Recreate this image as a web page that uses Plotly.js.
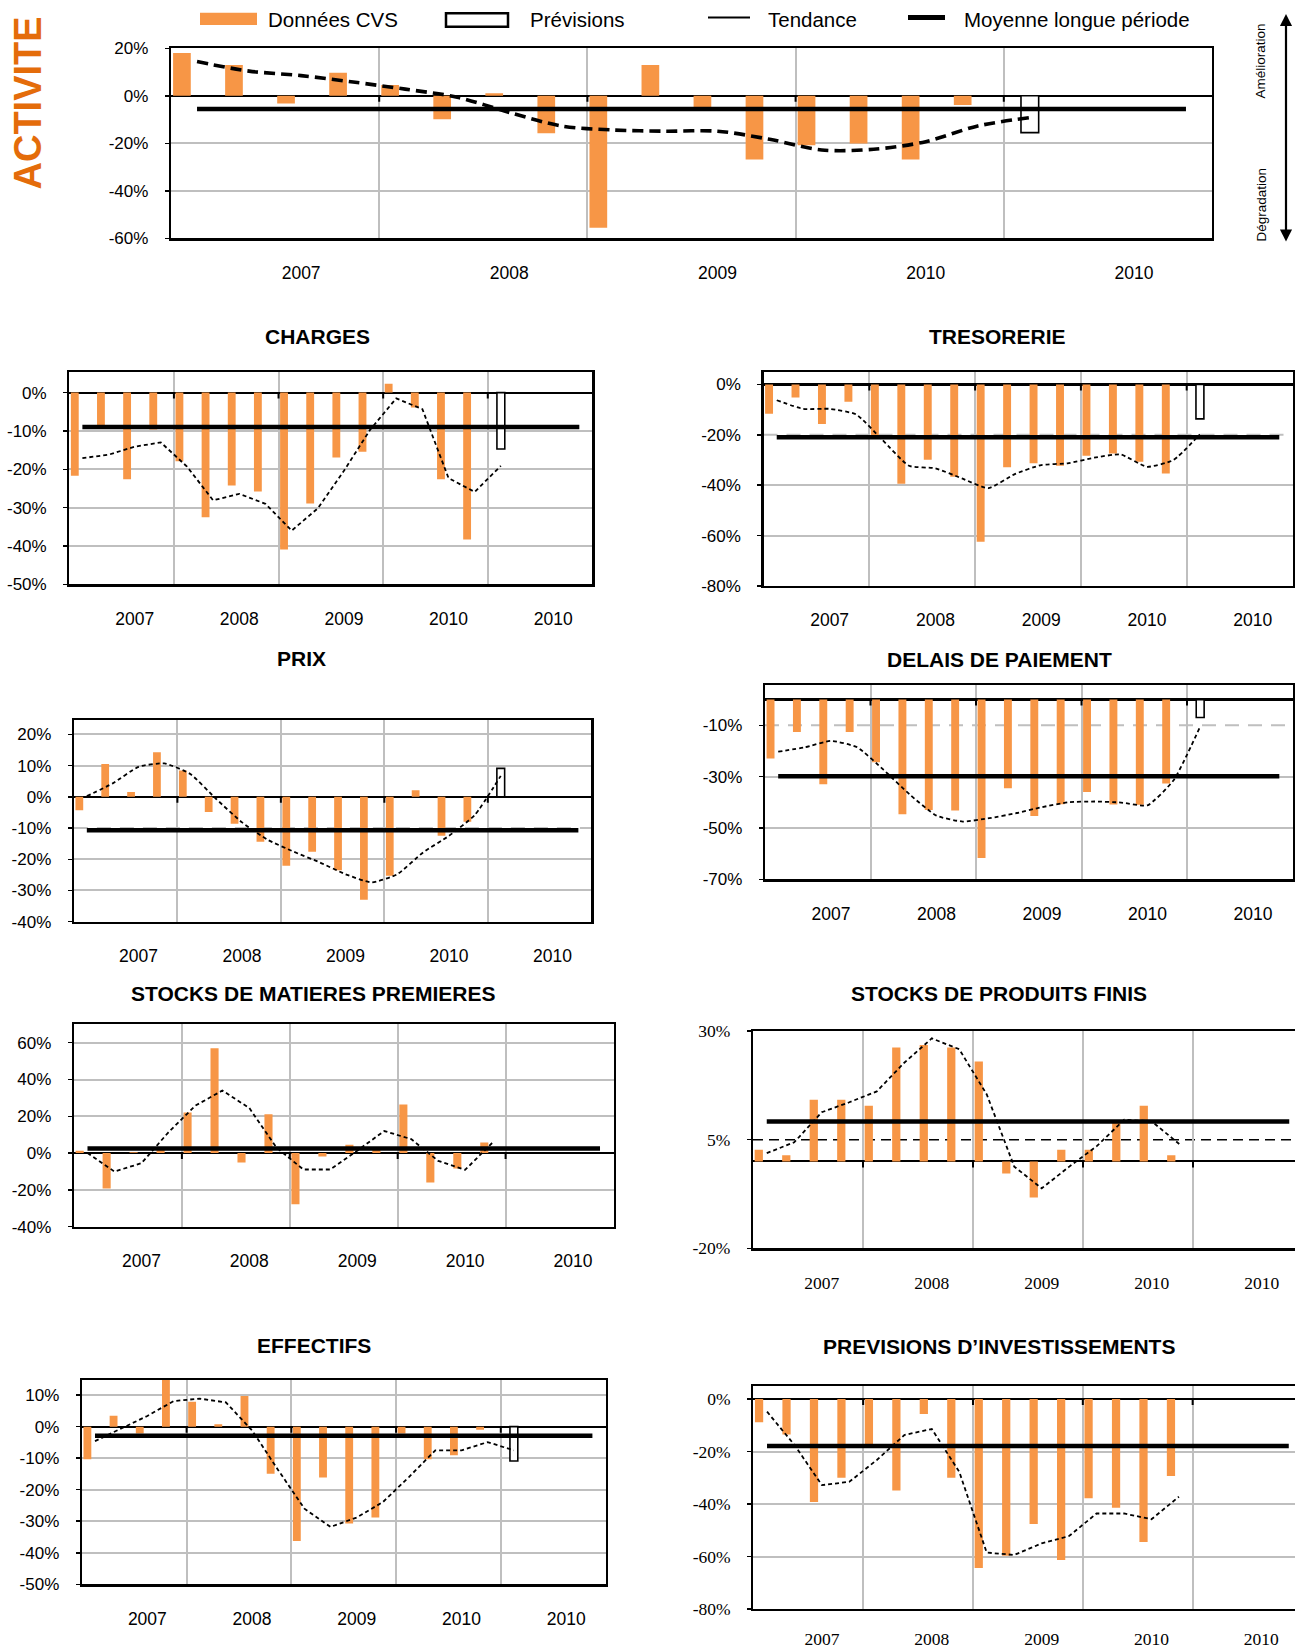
<!DOCTYPE html>
<html>
<head>
<meta charset="utf-8">
<script src="https://cdn.plot.ly/plotly-3.0.1.min.js"></script>
<style>html,body{margin:0;padding:0;background:#fff}#chart{width:1295px;height:1652px}</style>
</head>
<body>
<div id="chart"></div>
<script>
// ---------- DATA (values in %) ----------
const slots = [0,1,2,3,4,5,6,7,8,9,10,11,12,13,14,15,16,17,18,19]; // quarters
const yearLabels = ['2007','2008','2009','2010','2010'];

const activiteCVS  = [18.0, 13.0, -3.2, 9.7, 4.5, -9.9, 1.1, -15.8, -55.6, 13.0, -4.9, -26.8, -20.8, -20.1, -26.8, -3.9];
const activitePrev = -15.5;
const activiteTend = [14.4, 10.4, 8.5, 5.8, 2.8, -0.6, -7.0, -12.7, -14.4, -14.9, -14.9, -18.3, -22.8, -22.5, -19.3, -12.7, -9.2];
const activiteMean = -5.6;

const chargesCVS  = [-21.7, -8.7, -22.6, -9.6, -17.9, -32.5, -24.2, -25.8, -40.9, -28.9, -16.9, -15.4, 2.3, -3.9, -22.6, -38.3];
const chargesPrev = -14.7;
const chargesTend = [-17.1, -16.2, -14.1, -13.0, -19.3, -28.1, -26.4, -29.0, -36.0, -30.2, -20.4, -9.7, -1.5, -4.3, -22.3, -25.9, -19.1];
const chargesMean = -9.0;

const tresoCVS  = [-11.6, -5.2, -15.7, -6.9, -20.4, -39.4, -29.9, -36.6, -62.4, -32.9, -31.3, -32.3, -28.3, -27.4, -30.7, -35.4];
const tresoPrev = -13.7;
const tresoTend = [-6.3, -9.7, -9.7, -11.9, -22.1, -32.3, -33.3, -37.3, -41.2, -35.6, -32.0, -31.3, -29.1, -27.8, -32.7, -30.0, -19.8];
const tresoMean = -21.0;

const prixCVS  = [-4.3, 10.5, 1.5, 14.3, 8.4, -4.9, -8.6, -14.4, -22.1, -17.6, -23.5, -33.0, -25.3, 2.1, -12.5, -8.0];
const prixPrev = 9.1;
const prixTend = [0.2, 4.3, 9.6, 10.7, 7.3, -0.7, -8.2, -13.8, -17.6, -21.0, -24.8, -27.4, -24.8, -17.8, -12.5, -5.8, 6.7];
const prixMean = -10.7;

const delaisCVS  = [-22.9, -12.6, -33.0, -12.6, -24.4, -44.7, -43.0, -43.2, -61.7, -34.5, -45.3, -40.8, -36.0, -40.9, -41.0, -32.7];
const delaisPrev = -7.0;
const delaisTend = [-20.3, -18.6, -16.1, -18.6, -27.4, -37.1, -45.2, -47.5, -46.2, -44.3, -41.9, -40.0, -39.7, -40.1, -41.2, -31.3, -10.5];
const delaisMean = -29.9;

const stocksMPCVS  = [1.3, -19.3, 0.5, 2.5, 22.0, 57.0, -5.1, 21.1, -27.8, -1.8, 4.5, 3.0, 26.4, -16.0, -8.4, 5.8];
const stocksMPTend = [0.0, -10.0, -5.5, 11.3, 25.8, 34.0, 24.5, 3.1, -8.9, -8.9, 1.3, 12.0, 7.6, -4.2, -9.1, 5.5];
const stocksMPMean = 2.5;

const stocksPFCVS  = [2.7, 1.4, 14.2, 14.2, 12.8, 26.2, 26.8, 26.2, 23.0, -2.8, -8.3, 2.7, 2.7, 9.2, 12.8, 1.4];
const stocksPFTend = [1.9, 4.4, 11.3, 13.6, 16.1, 22.7, 28.3, 25.8, 15.4, -1.2, -6.2, -1.2, 3.5, 9.6, 9.2, 4.0];
const stocksPFMean = 9.2;

const effectifsCVS  = [-10.3, 3.5, -2.2, 16.0, 7.9, 0.8, 9.7, -14.9, -36.3, -16.1, -30.7, -28.8, -2.2, -10.3, -9.1, -1.0];
const effectifsPrev = -10.9;
const effectifsTend = [-4.6, -0.6, 3.4, 8.1, 8.9, 7.7, -1.2, -13.8, -26.0, -31.8, -28.8, -23.9, -15.9, -7.5, -7.5, -4.9, -7.5];
const effectifsMean = -2.9;

const investCVS  = [-8.8, -13.5, -39.2, -30.0, -17.5, -34.8, -5.7, -30.0, -64.4, -59.7, -47.6, -61.3, -37.8, -41.4, -54.5, -29.3];
const investTend = [-4.8, -17.5, -32.8, -31.5, -23.2, -13.7, -11.4, -27.7, -58.5, -59.4, -55.0, -52.2, -43.6, -43.6, -45.8, -37.2];
const investMean = -17.9;

// ---------- LAYOUT CONFIG ----------
const W = 1295, H = 1652;
const ORANGE = '#F79646', GRID = '#BFBFBF';
const SANS = 'Liberation Sans, Arial, sans-serif';
const SERIF = 'Liberation Serif, Times New Roman, serif';

const panels = [
  {title:null, cvs:activiteCVS, prev:activitePrev, tend:activiteTend, mean:activiteMean,
   L:171, R:1212, T:48.3, B:238.3, yr:[-60,20], ticks:[20,0,-20,-40,-60], grid:[-20,-40],
   dashed:null, bw:0.34, serif:false, tw:3.6, td:'11px,6px', smooth:0.9, xso:17},
  {title:'CHARGES', tx:317, ty:336.5, cvs:chargesCVS, prev:chargesPrev, tend:chargesTend, mean:chargesMean,
   L:69.3, R:592.4, T:372.3, B:584.3, yr:[-50,5.3], ticks:[0,-10,-20,-30,-40,-50], grid:[-10,-20,-30,-40],
   dashed:null, bw:0.30, serif:false, tw:1.8, td:'4px,3px', smooth:0, xso:17},
  {title:'TRESORERIE', tx:998, ty:336.5, cvs:tresoCVS, prev:tresoPrev, tend:tresoTend, mean:tresoMean,
   L:763.5, R:1292.5, T:372.3, B:586, yr:[-80,4.8], ticks:[0,-20,-40,-60,-80], grid:[-40,-60],
   dashed:{v:-20, c:GRID, dash:'14px,9px', w:2}, bw:0.30, serif:false, tw:1.8, td:'4px,3px', smooth:0.5, xso:17},
  {title:'PRIX', tx:301, ty:658.5, cvs:prixCVS, prev:prixPrev, tend:prixTend, mean:prixMean,
   L:73.9, R:591.3, T:720.3, B:921.7, yr:[-40,24.5], ticks:[20,10,0,-10,-20,-30,-40], grid:[20,10,-20,-30],
   dashed:{v:-10, c:GRID, dash:'14px,9px', w:2}, bw:0.30, serif:false, tw:1.8, td:'4px,3px', smooth:0.5, xso:17},
  {title:'DELAIS DE PAIEMENT', tx:999, ty:659, cvs:delaisCVS, prev:delaisPrev, tend:delaisTend, mean:delaisMean,
   L:765, R:1292.5, T:684.7, B:879.3, yr:[-70,5.8], ticks:[-10,-30,-50,-70], grid:[-30,-50],
   dashed:{v:-10, c:GRID, dash:'14px,9px', w:2}, bw:0.30, serif:false, tw:1.8, td:'4px,3px', smooth:0.5, xso:17},
  {title:'STOCKS DE MATIERES PREMIERES', tx:313, ty:994, cvs:stocksMPCVS, prev:null, tend:stocksMPTend, mean:stocksMPMean,
   L:74, R:613.5, T:1024.3, B:1226.7, yr:[-40,70], ticks:[60,40,20,0,-20,-40], grid:[60,40,20,-20],
   dashed:null, bw:0.30, serif:false, tw:1.8, td:'4px,3px', smooth:0, xso:17},
  {title:'STOCKS DE PRODUITS FINIS', tx:999, ty:994, cvs:stocksPFCVS, prev:null, tend:stocksPFTend, mean:stocksPFMean,
   L:753, R:1303, T:1031, B:1248.3, yr:[-20,30], ticks:[30,5,-20], grid:[],
   dashed:{v:5, c:'#000', dash:'10px,6px', w:1.5}, bw:0.30, serif:true, tw:1.8, td:'4px,3px', smooth:0, xso:17},
  {title:'EFFECTIFS', tx:313.5, ty:1345.8, cvs:effectifsCVS, prev:effectifsPrev, tend:effectifsTend, mean:effectifsMean,
   L:81.9, R:605.5, T:1380, B:1584.3, yr:[-50,14.8], ticks:[10,0,-10,-20,-30,-40,-50], grid:[10,-10,-20,-30,-40],
   dashed:null, bw:0.30, serif:false, tw:1.8, td:'4px,3px', smooth:0, xso:17},
  {title:'PREVISIONS D\u2019INVESTISSEMENTS', tx:999, ty:1346.7, cvs:investCVS, prev:null, tend:investTend, mean:investMean,
   L:753.3, R:1302.5, T:1385.7, B:1609, yr:[-80,5.1], ticks:[0,-20,-40,-60,-80], grid:[-20,-40,-60],
   dashed:null, bw:0.30, serif:true, tw:1.8, td:'4px,3px', smooth:0, xso:13}
];

const px = x => x / W;
const py = y => 1 - y / H;

const data = [];
const layout = {
  width: W, height: H,
  margin: {l:0, r:0, t:0, b:0},
  paper_bgcolor: '#fff', plot_bgcolor: '#fff',
  showlegend: false, barmode: 'overlay',
  font: {family: SANS, color: '#000'},
  shapes: [], annotations: []
};

panels.forEach((p, i) => {
  const k = i + 1;
  const sfx = k === 1 ? '' : String(k);
  const xa = 'x' + sfx, ya = 'y' + sfx;
  const slotW = (p.R - p.L) / 20;
  const Rc = Math.min(p.R, W);
  const xMax = -0.5 + (Rc - p.L) / slotW;
  const tickFont = {family: p.serif ? SERIF : SANS, size: p.serif ? 17.5 : 17, color: '#000'};
  const clipped = p.R > W;

  layout['xaxis' + sfx] = {
    domain: [px(p.L), px(Rc)], anchor: ya, range: [-0.5, xMax],
    tickmode: 'array', tickvals: [2, 6, 10, 14, 18], ticktext: yearLabels,
    ticks: '', showgrid: false, zeroline: false,
    tickfont: {family: tickFont.family, size: 17.5, color: '#000'},
    ticklabelstandoff: p.xso,
    minor: {tickmode: 'array', tickvals: [3.5, 7.5, 11.5, 15.5], showgrid: true, gridcolor: GRID, gridwidth: 2, ticks: ''},
    showline: true, mirror: true, linecolor: '#000', linewidth: 2.2, fixedrange: true
  };
  const yax = {
    domain: [py(p.B), py(p.T)], anchor: xa, range: p.yr,
    tickmode: 'array', tickvals: p.ticks, ticktext: p.ticks.map(v => v + '%'),
    ticks: 'outside', ticklen: 4, tickwidth: 1.5, tickcolor: '#000',
    ticklabelstandoff: 13, tickfont: tickFont,
    showgrid: false, zeroline: true, zerolinecolor: '#000', zerolinewidth: 2.2,
    showline: true, mirror: !clipped, linecolor: '#000', linewidth: 2.2, fixedrange: true
  };
  if (p.grid.length) yax.minor = {tickmode: 'array', tickvals: p.grid, showgrid: true, gridcolor: GRID, gridwidth: 2, ticks: ''};
  layout['yaxis' + sfx] = yax;

  if (p.dashed) {
    layout.shapes.push({type: 'line', xref: xa + ' domain', yref: ya, x0: 0, x1: 1, y0: p.dashed.v, y1: p.dashed.v,
      line: {color: p.dashed.c, width: p.dashed.w, dash: p.dashed.dash}, layer: 'below'});
  }
  // small tick marks on the zero line at year boundaries
  [3.5, 7.5, 11.5, 15.5].forEach(xb => {
    layout.shapes.push({type: 'line', xref: xa, yref: ya, ysizemode: 'pixel', yanchor: 0,
      x0: xb, x1: xb, y0: 0, y1: -6, line: {color: '#000', width: 2}});
  });

  data.push({type: 'bar', x: slots.slice(0, p.cvs.length), y: p.cvs, xaxis: xa, yaxis: ya,
    width: p.bw, offset: -0.29 - p.bw / 2, marker: {color: ORANGE, line: {width: 0}}, hoverinfo: 'skip'});
  if (p.prev !== null) {
    data.push({type: 'bar', x: [slots[p.cvs.length]], y: [p.prev], xaxis: xa, yaxis: ya,
      width: p.bw, offset: -p.bw / 2, marker: {color: '#fff', line: {color: '#000', width: 1.6}}, hoverinfo: 'skip'});
  }
  data.push({type: 'scatter', mode: 'lines', x: slots.slice(0, p.tend.length), y: p.tend, xaxis: xa, yaxis: ya,
    line: {color: '#000', width: p.tw, dash: p.td, shape: p.smooth ? 'spline' : 'linear', smoothing: p.smooth || 0},
    hoverinfo: 'skip'});
  data.push({type: 'scatter', mode: 'lines', x: [slots[0], slots[19]], y: [p.mean, p.mean], xaxis: xa, yaxis: ya,
    line: {color: '#000', width: 4.5}, hoverinfo: 'skip'});

  if (p.title) {
    layout.annotations.push({text: '<b>' + p.title + '</b>', xref: 'paper', yref: 'paper',
      x: px(p.tx), y: py(p.ty), xanchor: 'center', yanchor: 'middle', showarrow: false,
      font: {family: SANS, size: 21, color: '#000'}});
  }
});

// ACTIVITE vertical label
layout.annotations.push({text: '<b>ACTIVITE</b>', xref: 'paper', yref: 'paper', x: px(27.5), y: py(103),
  xanchor: 'center', yanchor: 'middle', textangle: -90, showarrow: false,
  font: {family: SANS, size: 38, color: '#E46C0A'}});

// Legend (manual)
layout.shapes.push({type: 'rect', xref: 'paper', yref: 'paper', x0: px(200), x1: px(257), y0: py(12.7), y1: py(25),
  fillcolor: ORANGE, line: {width: 0}});
layout.shapes.push({type: 'rect', xref: 'paper', yref: 'paper', x0: px(446), x1: px(508), y0: py(13.3), y1: py(26.7),
  fillcolor: '#fff', line: {color: '#000', width: 2.5}});
layout.shapes.push({type: 'line', xref: 'paper', yref: 'paper', x0: px(708), x1: px(750), y0: py(17.5), y1: py(17.5),
  line: {color: '#000', width: 2}});
layout.shapes.push({type: 'line', xref: 'paper', yref: 'paper', x0: px(908), x1: px(945), y0: py(17.5), y1: py(17.5),
  line: {color: '#000', width: 5}});
[['Données CVS', 265.5], ['Prévisions', 528], ['Tendance', 766.5], ['Moyenne longue période', 961.5]].forEach(([t, x]) => {
  layout.annotations.push({text: t, xref: 'paper', yref: 'paper', x: px(x), y: py(19.5), xanchor: 'left', yanchor: 'middle',
    showarrow: false, font: {family: SANS, size: 20.5, color: '#000'}});
});

// Right-side arrow with labels
layout.annotations.push({text: '', xref: 'paper', yref: 'paper', axref: 'paper', ayref: 'paper',
  x: px(1286), y: py(14), ax: px(1286), ay: py(243), showarrow: true, arrowside: 'end+start',
  arrowhead: 2, arrowsize: 1.1, arrowwidth: 2.2, arrowcolor: '#000', standoff: 0, startstandoff: 0});
layout.annotations.push({text: 'Amélioration', xref: 'paper', yref: 'paper', x: px(1260.5), y: py(61),
  xanchor: 'center', yanchor: 'middle', textangle: -90, showarrow: false, font: {family: SANS, size: 13.5, color: '#000'}});
layout.annotations.push({text: 'Dégradation', xref: 'paper', yref: 'paper', x: px(1260.5), y: py(205),
  xanchor: 'center', yanchor: 'middle', textangle: -90, showarrow: false, font: {family: SANS, size: 13.5, color: '#000'}});

Plotly.newPlot('chart', data, layout, {staticPlot: true, displayModeBar: false});
</script>
</body>
</html>
